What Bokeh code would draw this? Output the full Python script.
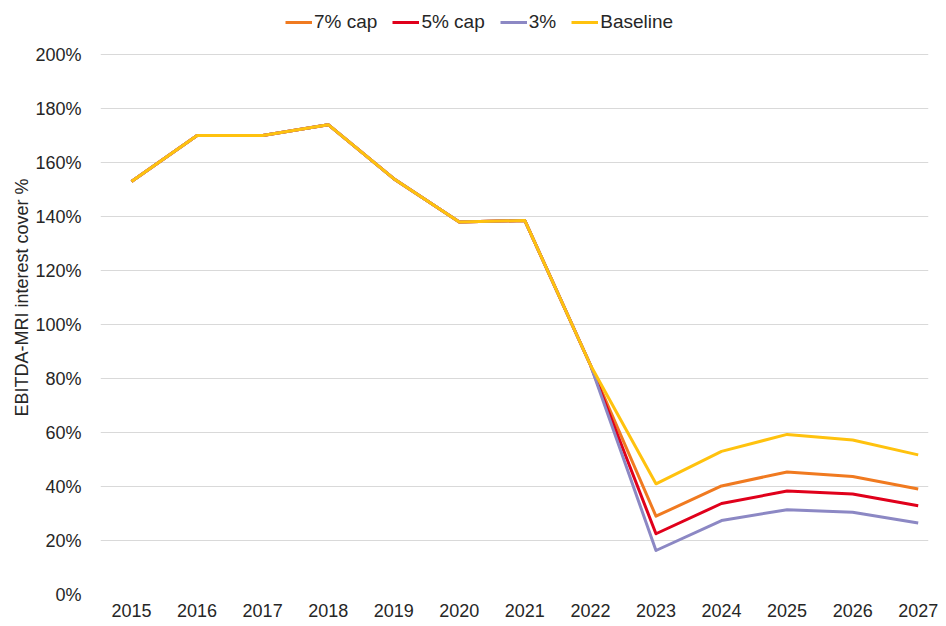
from bokeh.plotting import figure
from bokeh.models import Range1d, NumeralTickFormatter, Legend, LegendItem, FixedTicker
from bokeh.embed import file_html
from bokeh.resources import INLINE

years = [2015, 2016, 2017, 2018, 2019, 2020, 2021, 2022,
         2023, 2024, 2025, 2026, 2027]
hist = [1.53, 1.70, 1.70, 1.74, 1.54, 1.38, 1.385, 0.85]
baseline = hist + [0.41, 0.53, 0.593, 0.572, 0.517]
cap7 = hist + [0.29, 0.402, 0.454, 0.437, 0.391]
cap5 = hist + [0.225, 0.337, 0.383, 0.372, 0.329]
cap3 = hist + [0.163, 0.274, 0.314, 0.305, 0.265]
y_ticks = [0.0, 0.2, 0.4, 0.6, 0.8, 1.0, 1.2, 1.4, 1.6, 1.8, 2.0]

series_names = ["7% cap", "5% cap", "3%", "Baseline"]
series_vals = [cap7, cap5, cap3, baseline]
series_colors = ["#F07A20", "#E0001B", "#8C88C4", "#FFC20E"]

FONT = "Liberation Sans"
TXT = "#262626"

p = figure(frame_width=828, frame_height=594, output_backend="svg", toolbar_location=None,
           x_range=Range1d(2014.527, 2027.157),
           y_range=Range1d(0, 2.2),
           min_border_left=100, min_border_right=16, min_border_top=0, min_border_bottom=30)
p.outline_line_color = None
p.background_fill_color = "white"
p.border_fill_color = "white"

renderers = []
for name, vals, col in zip(series_names, series_vals, series_colors):
    r = p.line(years, vals, line_color=col, line_width=3, line_join="round")
    renderers.append(r)

legend = Legend(items=[LegendItem(label=n, renderers=[r]) for n, r in zip(series_names, renderers)],
                orientation="horizontal", location=(185, 561),
                label_text_font=FONT, label_text_font_size="19px", label_text_color=TXT,
                glyph_width=27, glyph_height=14, label_standoff=2, spacing=15,
                border_line_color=None, background_fill_alpha=0,
                padding=0, margin=0)
p.add_layout(legend, "center")

p.yaxis.ticker = FixedTicker(ticks=y_ticks)
p.yaxis.formatter = NumeralTickFormatter(format="0%")
p.yaxis.axis_line_color = None
p.yaxis.major_tick_line_color = None
p.yaxis.minor_tick_line_color = None
p.yaxis.major_tick_in = 0
p.yaxis.major_tick_out = 0
p.yaxis.major_label_text_font = FONT
p.yaxis.major_label_text_font_size = "18px"
p.yaxis.major_label_text_color = TXT
p.yaxis.major_label_standoff = 19
p.yaxis.axis_label = "EBITDA-MRI interest cover %"
p.yaxis.axis_label_text_font = FONT
p.yaxis.axis_label_text_font_size = "18px"
p.yaxis.axis_label_text_font_style = "normal"
p.yaxis.axis_label_text_color = TXT
p.yaxis.axis_label_standoff = 0

p.xaxis.ticker = FixedTicker(ticks=years)
p.xaxis.axis_line_color = None
p.xaxis.major_tick_line_color = None
p.xaxis.minor_tick_line_color = None
p.xaxis.major_tick_in = 0
p.xaxis.major_tick_out = 0
p.xaxis.major_label_text_font = FONT
p.xaxis.major_label_text_font_size = "18px"
p.xaxis.major_label_text_color = TXT
p.xaxis.major_label_standoff = 9

p.xgrid.grid_line_color = None
p.ygrid.grid_line_color = "#D9D9D9"
p.ygrid.grid_line_width = 1
p.ygrid.ticker = FixedTicker(ticks=y_ticks)

open("out.html", "w").write(file_html(p, INLINE))
